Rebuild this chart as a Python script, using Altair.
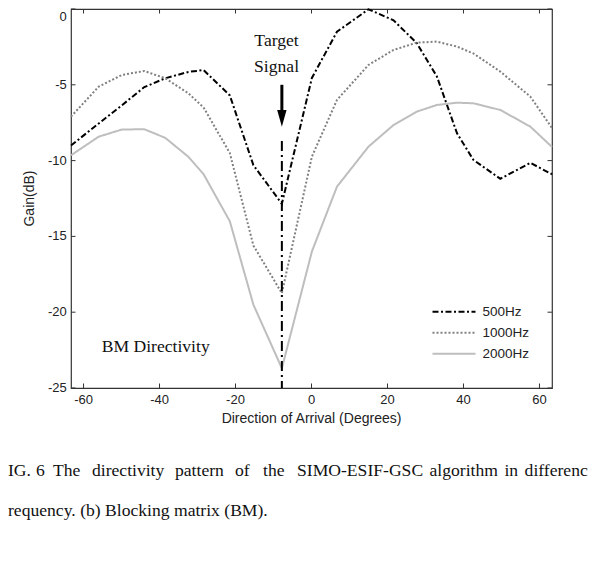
import altair as alt
import pandas as pd

# ---------------- data ----------------
series = ["500Hz", "1000Hz", "2000Hz"]
angles = [-63.3, -56.0, -49.9, -44.0, -38.5, -32.4, -28.4, -21.5, -15.3, -7.8,
          0.1, 6.7, 15.0, 21.6, 27.7, 33.0, 38.3, 42.6, 49.7, 57.6, 63.3]
gain_500 = [-9.0, -7.55, -6.35, -5.15, -4.57, -4.15, -4.03, -5.7, -10.3, -12.85,
            -4.55, -1.5, -0.02, -0.75, -2.25, -4.45, -8.2, -9.95, -11.2, -10.15, -10.9]
gain_1000 = [-7.1, -5.12, -4.35, -4.09, -4.57, -5.56, -6.5, -9.5, -15.6, -18.75,
             -9.74, -6.0, -3.69, -2.7, -2.22, -2.15, -2.48, -2.93, -4.13, -5.78, -7.85]
gain_2000 = [-9.65, -8.42, -7.95, -7.93, -8.5, -9.75, -10.9, -14.0, -19.5, -23.7,
             -16.0, -11.72, -9.08, -7.65, -6.77, -6.33, -6.18, -6.22, -6.66, -7.76, -9.1]

x_ticks = [-60, -40, -20, 0, 20, 40, 60]
y_ticks = [-25, -20, -15, -10, -5, 0]
x_title = "Direction of Arrival (Degrees)"
y_title = "Gain(dB)"

target_angle = -7.8

caption_line1 = ["IG.", "6", "The", "directivity", "pattern", "of", "the",
                 "SIMO-ESIF-GSC", "algorithm", "in", "differenc"]
caption_line1_px = [8, 36, 53, 92, 175, 235, 263, 297, 429.5, 504.4, 524.6]
caption_line2 = ["requency. (b) Blocking matrix (BM)."]
caption_line2_px = [8]

# ---------------- layout / style ----------------
W, H = 481, 379
X_DOM = [-63.3, 63.3]
Y_DOM = [-25, 0]
PLOT_LEFT, PLOT_TOP = 71, 9  # page position of plot area

def page_x(px):
    return X_DOM[0] + (px - PLOT_LEFT) / W * (X_DOM[1] - X_DOM[0])

def page_y(py):
    return Y_DOM[1] - (py - PLOT_TOP) / H * (Y_DOM[1] - Y_DOM[0])

colors = ["#000000", "#808080", "#bebebe"]
dashes = [[6, 2.5, 2, 2.5], [2, 2], [1, 0]]
SANS = "Liberation Sans"
SERIF = "Liberation Serif"
INK = "#222222"

xs = alt.Scale(domain=X_DOM, nice=False, zero=False)
ys = alt.Scale(domain=Y_DOM, nice=False, zero=False)

rows = []
for name, vals in zip(series, [gain_500, gain_1000, gain_2000]):
    for a, g in zip(angles, vals):
        rows.append({"angle": a, "gain": g, "freq": name})
df = pd.DataFrame(rows)

legend = alt.Legend(title=None, orient="none", legendX=360.5, legendY=293.5,
                    symbolType="stroke", symbolSize=1849, symbolStrokeWidth=2,
                    labelFont=SANS, labelFontSize=13.5, labelColor=INK,
                    labelOffset=6, clipHeight=18.5, rowPadding=2, padding=0)

lines = alt.Chart(df).mark_line(strokeWidth=2).encode(
    x=alt.X("angle:Q", scale=xs, axis=None),
    y=alt.Y("gain:Q", scale=ys, axis=None),
    color=alt.Color("freq:N", scale=alt.Scale(domain=series, range=colors), legend=legend),
    strokeDash=alt.StrokeDash("freq:N", scale=alt.Scale(domain=series, range=dashes), legend=legend),
)

# axis tick labels and titles (through the scales)
xl = pd.DataFrame({"t": x_ticks, "label": [str(v) for v in x_ticks]})
yl = pd.DataFrame({"t": y_ticks[:-1], "label": [str(v) for v in y_ticks[:-1]]})
x_labels = alt.Chart(xl).mark_text(font=SANS, fontSize=13, color=INK, baseline="middle",
                                   align="center").encode(
    x=alt.X("t:Q", scale=xs, axis=None), y=alt.value(H + 12), text="label:N")
y_labels = alt.Chart(yl).mark_text(font=SANS, fontSize=13, color=INK, baseline="middle",
                                   align="right").encode(
    y=alt.Y("t:Q", scale=ys, axis=None), x=alt.value(-4.3), text="label:N")
# the top label ("0") sits at the top edge of the page: keep it inside
y_top_label = alt.Chart(pd.DataFrame({"label": [str(y_ticks[-1])]})).mark_text(
    font=SANS, fontSize=13, color=INK, baseline="top", align="right").encode(
    y=alt.value(1.5), x=alt.value(-4.3), text="label:N")
titles_x = alt.Chart(pd.DataFrame({"label": [x_title]})).mark_text(
    font=SANS, fontSize=14, color=INK, baseline="middle", align="center").encode(
    x=alt.value(W / 2), y=alt.value(H + 30.5), text="label:N")
titles_y = alt.Chart(pd.DataFrame({"label": [y_title]})).mark_text(
    font=SANS, fontSize=14, color=INK, baseline="middle", align="center", angle=270).encode(
    x=alt.value(-41), y=alt.value(H / 2), text="label:N")

# target line, arrow
tgt = pd.DataFrame({"x": [target_angle], "y1": [-8.7], "y2": [-25.0]})
target_line = alt.Chart(tgt).mark_rule(color="black", strokeWidth=2, strokeDash=[10, 4, 2, 4]).encode(
    x=alt.X("x:Q", scale=xs, axis=None),
    y=alt.Y("y1:Q", scale=ys, axis=None),
    y2="y2:Q",
)
shaft_df = pd.DataFrame({"x": [target_angle], "y1": [-5.0], "y2": [-6.8]})
shaft = alt.Chart(shaft_df).mark_rule(color="black", strokeWidth=3).encode(
    x=alt.X("x:Q", scale=xs, axis=None),
    y=alt.Y("y1:Q", scale=ys, axis=None),
    y2="y2:Q",
)
head_df = pd.DataFrame({"x": [target_angle], "y": [-7.21]})
head = alt.Chart(head_df).mark_point(shape="M-0.56,-1L0.56,-1L0,1Z", filled=True, size=279,
                                     color="black", opacity=1, strokeWidth=0).encode(
    x=alt.X("x:Q", scale=xs, axis=None),
    y=alt.Y("y:Q", scale=ys, axis=None),
)

# annotation texts
ann = pd.DataFrame({
    "text": ["Target", "Signal"],
    "x": [-9.2, -9.2],
    "y": [page_y(45.5), page_y(72.3)],
})
ann_text = alt.Chart(ann).mark_text(font=SERIF, fontSize=17.6, color="#111111",
                                    align="center", baseline="alphabetic").encode(
    x=alt.X("x:Q", scale=xs, axis=None),
    y=alt.Y("y:Q", scale=ys, axis=None),
    text="text:N",
)
bm = pd.DataFrame({"text": ["BM Directivity"], "x": [page_x(101.7)], "y": [page_y(351.7)]})
bm_text = alt.Chart(bm).mark_text(font=SERIF, fontSize=17.6, color="#111111",
                                  align="left", baseline="alphabetic").encode(
    x=alt.X("x:Q", scale=xs, axis=None),
    y=alt.Y("y:Q", scale=ys, axis=None),
    text="text:N",
)

# caption
cap_rows = [{"text": t, "x": page_x(p), "y": page_y(476)} for t, p in zip(caption_line1, caption_line1_px)]
cap_rows += [{"text": t, "x": page_x(p), "y": page_y(516)} for t, p in zip(caption_line2, caption_line2_px)]
cap = pd.DataFrame(cap_rows)
caption = alt.Chart(cap).mark_text(font=SERIF, fontSize=17.6, color="#111111",
                                   align="left", baseline="alphabetic").encode(
    x=alt.X("x:Q", scale=xs, axis=None),
    y=alt.Y("y:Q", scale=ys, axis=None),
    text="text:N",
)

# inward ticks on all four sides
TL = 4.5
xt = pd.DataFrame({"t": x_ticks})
yt = pd.DataFrame({"t": y_ticks})
tick_style = dict(color="#333333", strokeWidth=1)
bottom_ticks = alt.Chart(xt).mark_rule(**tick_style).encode(
    x=alt.X("t:Q", scale=xs, axis=None), y=alt.value(H), y2=alt.value(H - TL))
top_ticks = alt.Chart(xt).mark_rule(**tick_style).encode(
    x=alt.X("t:Q", scale=xs, axis=None), y=alt.value(0), y2=alt.value(TL))
left_ticks = alt.Chart(yt).mark_rule(**tick_style).encode(
    y=alt.Y("t:Q", scale=ys, axis=None), x=alt.value(0), x2=alt.value(TL))
right_ticks = alt.Chart(yt).mark_rule(**tick_style).encode(
    y=alt.Y("t:Q", scale=ys, axis=None), x=alt.value(W), x2=alt.value(W - TL))

chart = alt.layer(
    lines, caption, bottom_ticks, top_ticks, left_ticks, right_ticks,
    x_labels, y_labels, y_top_label, titles_x, titles_y,
    target_line, shaft, head, ann_text, bm_text,
).properties(
    width=W, height=H,
    autosize=alt.AutoSizeParams(type="none"),
    padding={"left": 63, "top": 1, "right": 37, "bottom": 172},
    background="white",
).configure_view(stroke="#333333", strokeWidth=1.2)

chart.save("out.html", embed_options={"renderer": "svg", "actions": False})
